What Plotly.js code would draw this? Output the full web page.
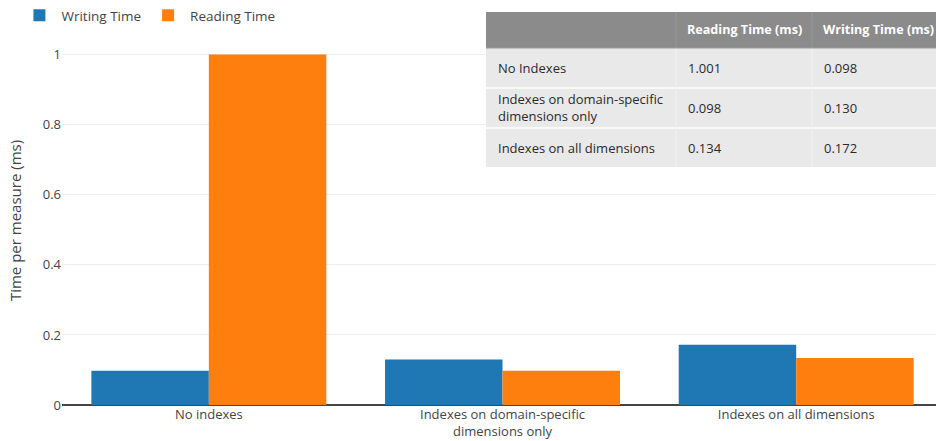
<!DOCTYPE html>
<html>
<head>
<meta charset="utf-8">
<script src="https://cdn.plot.ly/plotly-3.0.1.min.js"></script>
<style>
  html, body { margin: 0; padding: 0; background: #fff; }
  #chart { width: 936px; height: 441px; }
</style>
</head>
<body>
<div id="chart"></div>
<script>
// Index configurations compared in the benchmark
const categories = ["No indexes", "Indexes on domain-specific<br>dimensions only", "Indexes on all dimensions"];
const writingTime = [0.098, 0.130, 0.172];
const readingTime = [1.001, 0.098, 0.134];

// Summary table contents
const tableLabels = ["No Indexes", "Indexes on domain-specific<br>dimensions only", "Indexes on all dimensions"];
const tableHeader = ["", "Reading Time (ms)", "Writing Time (ms)"];
const readingText = ["1.001", "0.098", "0.134"];
const writingText = ["0.098", "0.130", "0.172"];

const FONT = '"Open Sans", verdana, arial, sans-serif';

// Plot-area geometry (pixels) used to place the summary table in paper units
const W = 936, H = 441;
const M = { l: 62, r: 0, t: 36, b: 36 };
const plotW = W - M.l - M.r, plotH = H - M.t - M.b;
const px = x => (x - M.l) / plotW;
const py = y => (H - M.b - y) / plotH;

// Table grid: column edges and row edges in pixels
const colEdges = [486, 676, 812, 960];
const headerTop = 12, headerBottom = 48;
const rowEdges = [48, 88, 128, 167];
const cellPad = 10;
const headerPad = 9;

const shapes = [];
const annotations = [];

// header band
shapes.push({
  type: "rect", xref: "paper", yref: "paper", layer: "above",
  x0: px(colEdges[0]), x1: px(colEdges[3]), y0: py(headerBottom), y1: py(headerTop),
  fillcolor: "#8b8b8b", line: { width: 0 }
});
// body rows
for (let r = 0; r < tableLabels.length; r++) {
  shapes.push({
    type: "rect", xref: "paper", yref: "paper", layer: "above",
    x0: px(colEdges[0]), x1: px(colEdges[3]), y0: py(rowEdges[r + 1]), y1: py(rowEdges[r]),
    fillcolor: "#e9e9e9", line: { width: 0 }
  });
}
// white separators between rows
for (let r = 1; r < rowEdges.length - 1; r++) {
  shapes.push({
    type: "line", xref: "paper", yref: "paper", layer: "above",
    x0: px(colEdges[0]), x1: px(colEdges[3]), y0: py(rowEdges[r]), y1: py(rowEdges[r]),
    line: { color: "#ffffff", width: 1.5 }
  });
}
// column dividers
for (let c = 1; c < colEdges.length - 1; c++) {
  shapes.push({
    type: "line", xref: "paper", yref: "paper", layer: "above",
    x0: px(colEdges[c]), x1: px(colEdges[c]), y0: py(headerBottom), y1: py(headerTop),
    line: { color: "#989898", width: 1 }
  });
  shapes.push({
    type: "line", xref: "paper", yref: "paper", layer: "above",
    x0: px(colEdges[c]), x1: px(colEdges[c]), y0: py(rowEdges[rowEdges.length - 1]), y1: py(headerBottom),
    line: { color: "#f2f2f2", width: 1 }
  });
}
// a light rule beneath the header
shapes.push({
  type: "line", xref: "paper", yref: "paper", layer: "above",
  x0: px(colEdges[0]), x1: px(colEdges[3]), y0: py(headerBottom), y1: py(headerBottom),
  line: { color: "#9a9a9a", width: 1 }
});

// header text
tableHeader.forEach((t, c) => {
  if (!t) return;
  annotations.push({
    xref: "paper", yref: "paper", x: px(colEdges[c] + headerPad), y: py((headerTop + headerBottom) / 2),
    xanchor: "left", yanchor: "middle", showarrow: false, align: "left",
    text: "<b>" + t + "</b>", font: { family: FONT, size: 12.6, color: "#ffffff" }
  });
});
// body text
const bodyCols = [tableLabels, readingText, writingText];
bodyCols.forEach((col, c) => {
  col.forEach((t, r) => {
    annotations.push({
      xref: "paper", yref: "paper", x: px(colEdges[c] + cellPad), y: py((rowEdges[r] + rowEdges[r + 1]) / 2),
      xanchor: "left", yanchor: "middle", showarrow: false, align: "left",
      text: t, font: { family: FONT, size: 13, color: "#2a2a2a" }
    });
  });
});

const traces = [
  {
    type: "bar",
    name: "Writing Time",
    x: categories,
    y: writingTime,
    marker: { color: "#1f77b4" },
    hoverinfo: "y"
  },
  {
    type: "bar",
    name: "Reading Time",
    x: categories,
    y: readingTime,
    marker: { color: "#ff7f0e" },
    hoverinfo: "y"
  }
];

const layout = {
  width: W,
  height: H,
  margin: M,
  paper_bgcolor: "#ffffff",
  plot_bgcolor: "#ffffff",
  font: { family: FONT, size: 13, color: "#444" },
  barmode: "group",
  bargap: 0.2,
  bargroupgap: 0,
  showlegend: true,
  legend: {
    orientation: "h",
    x: -0.051,
    xanchor: "left",
    y: 1.098,
    yanchor: "top",
    font: { size: 13.5, color: "#444" },
    itemwidth: 34,
    bgcolor: "rgba(0,0,0,0)"
  },
  xaxis: {
    type: "category",
    range: [-0.5, 2.476],
    tickfont: { size: 13, color: "#444" },
    showgrid: false,
    zeroline: false,
    showline: false,
    ticks: ""
  },
  yaxis: {
    range: [0, 1.0537],
    title: { text: "Time per measure (ms)", font: { size: 15, color: "#444" }, standoff: 17 },
    tickvals: [0, 0.2, 0.4, 0.6, 0.8, 1],
    ticktext: ["0", "0.2", "0.4", "0.6", "0.8", "1"],
    tickfont: { size: 13, color: "#444" },
    gridcolor: "#eeeeee",
    zeroline: true,
    zerolinecolor: "#444",
    zerolinewidth: 1.5
  },
  shapes: shapes,
  annotations: annotations
};

Plotly.newPlot("chart", traces, layout, { displayModeBar: false, staticPlot: true });
</script>
</body>
</html>
